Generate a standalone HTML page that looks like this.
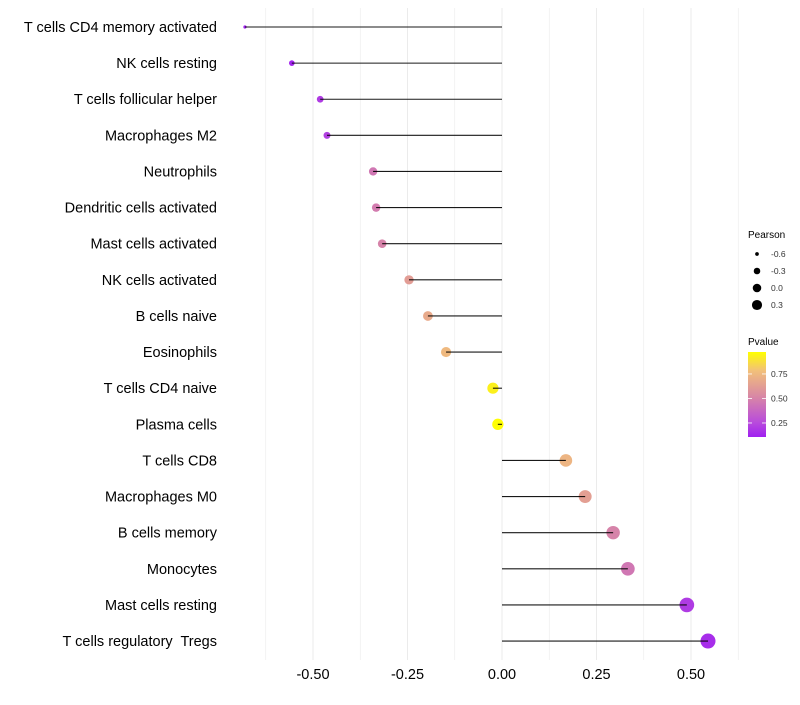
<!DOCTYPE html>
<html><head><meta charset="utf-8"><style>
body{margin:0;background:#fff;font-family:"Liberation Sans",sans-serif;}
svg text{font-family:"Liberation Sans",sans-serif;white-space:pre;}
</style></head><body>
<svg id="chart" width="800" height="700" viewBox="0 0 800 700">
<g id="grid"></g>
<g id="marks"></g>
<g id="ylabels"></g>
<g id="xlabels"></g>
<g id="legend">
<text x="748" y="238" font-size="10" fill="#000">Pearson</text>
<text x="748" y="345" font-size="10" fill="#000">Pvalue</text>
<defs><linearGradient id="pg" x1="0" y1="1" x2="0" y2="0">
<stop offset="0" stop-color="#a020f0"/><stop offset="0.17" stop-color="#b84bdc"/><stop offset="0.47" stop-color="#d886a6"/><stop offset="0.78" stop-color="#f2c07a"/><stop offset="1" stop-color="#ffff00"/></linearGradient></defs>
<rect x="748" y="352" width="18" height="85" fill="url(#pg)"/>
</g>
</svg>
<script>
const categories=["T cells CD4 memory activated","NK cells resting","T cells follicular helper","Macrophages M2","Neutrophils","Dendritic cells activated","Mast cells activated","NK cells activated","B cells naive","Eosinophils","T cells CD4 naive","Plasma cells","T cells CD8","Macrophages M0","B cells memory","Monocytes","Mast cells resting","T cells regulatory  Tregs"];
const pearson=[-0.68,-0.556,-0.481,-0.463,-0.341,-0.333,-0.317,-0.246,-0.196,-0.148,-0.024,-0.011,0.169,0.22,0.294,0.333,0.489,0.545];
const pvalue=[0.05,0.12,0.2,0.22,0.45,0.47,0.5,0.62,0.68,0.75,0.93,0.97,0.73,0.63,0.5,0.45,0.2,0.15];
const xTicks=[-0.5,-0.25,0,0.25,0.5];
const xTickLabels=["-0.50","-0.25","0.00","0.25","0.50"];
const sizeLegendValues=[-0.6,-0.3,0.0,0.3];
const sizeLegendLabels=["-0.6","-0.3","0.0","0.3"];
const colorLegendValues=[0.25,0.5,0.75];
const colorLegendLabels=["0.25","0.50","0.75"];
const NS="http://www.w3.org/2000/svg";
const x=v=>502+v*378;
const y=i=>27+i*36.12;
const pmin=-0.68,pmax=0.545;
const r=v=>Math.sqrt(1.6*1.6+Math.max(0,(v-pmin)/(pmax-pmin))*(7.5*7.5-1.6*1.6));
const stops=[[0,[160,32,240]],[0.17,[184,75,220]],[0.47,[216,134,166]],[0.78,[242,192,122]],[1,[255,255,0]]];
function col(p){let t=(p-0.107)/(0.974-0.107);t=Math.max(0,Math.min(1,t));
for(let k=1;k<stops.length;k++){if(t<=stops[k][0]){const a=stops[k-1],b=stops[k];const f=(t-a[0])/(b[0]-a[0]);
return "rgb("+a[1].map((c,j)=>Math.round(c+(b[1][j]-c)*f)).join(",")+")";}}return "rgb(255,255,0)";}
function mk(tag,attrs,parent){const e=document.createElementNS(NS,tag);for(const k in attrs)e.setAttribute(k,attrs[k]);parent.appendChild(e);return e;}
const grid=document.getElementById('grid');
for(let v=-0.625;v<=0.63;v+=0.125){const l=mk('line',{x1:x(v),x2:x(v),y1:8,y2:660,stroke:'#ebebeb','stroke-width':Math.abs(v*4-Math.round(v*4))<1e-6?1:0.6},grid);

}
const marks=document.getElementById('marks'),yl=document.getElementById('ylabels'),xl=document.getElementById('xlabels');
categories.forEach((c,i)=>{
const cx=x(pearson[i]);
const ci=mk('circle',{cx:cx,cy:y(i),r:r(pearson[i]),fill:col(pvalue[i])},marks);


const ln=mk('line',{x1:x(0),x2:cx,y1:y(i),y2:y(i),stroke:'#000','stroke-width':1.1,'stroke-opacity':0.9},marks);


const t=mk('text',{x:217,y:y(i)+5,'text-anchor':'end','font-size':14.5,fill:'#000'},yl);t.textContent=c;


});
xTicks.forEach((v,i)=>{const t=mk('text',{x:x(v),y:679,'text-anchor':'middle','font-size':14.5,fill:'#000'},xl);t.textContent=xTickLabels[i];

});
const lg=document.getElementById('legend');
sizeLegendValues.forEach((v,i)=>{const cy=254+i*17;
const c=mk('circle',{cx:757,cy:cy,r:r(v)*0.75,fill:'#000'},lg);


const t=mk('text',{x:771,y:cy+3,'font-size':8.5,fill:'#333'},lg);t.textContent=sizeLegendLabels[i];

});
colorLegendValues.forEach((v,i)=>{const cy=437-(v-0.107)/(0.974-0.107)*85;
const tk=mk('line',{x1:748,x2:752,y1:cy,y2:cy,stroke:'#fff','stroke-width':0.8},lg);


const tk2=mk('line',{x1:762,x2:766,y1:cy,y2:cy,stroke:'#fff','stroke-width':0.8},lg);


const t=mk('text',{x:771,y:cy+3,'font-size':8.5,fill:'#333'},lg);t.textContent=colorLegendLabels[i];

});
</script>
</body></html>
